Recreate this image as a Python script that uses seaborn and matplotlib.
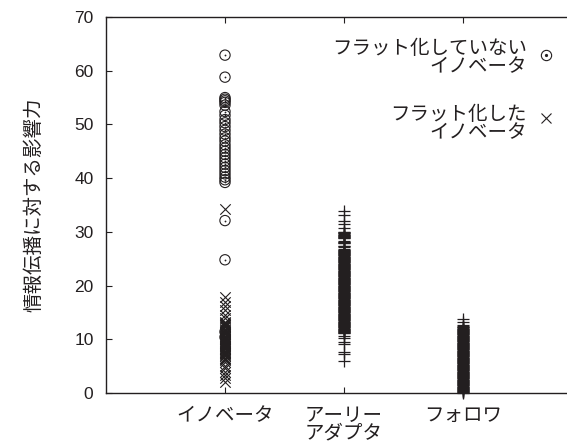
import matplotlib
matplotlib.use("Agg")
import matplotlib.pyplot as plt
from matplotlib.lines import Line2D
import pandas as pd
import seaborn as sns

# Adopter groups on the x axis
categories = ["イノベータ", "アーリー\nアダプタ", "フォロワ"]

# Influence on information propagation, per node
innovator_unflat = [62.9, 58.8, 55.0, 54.7, 54.4, 54.1, 53.6, 52.4, 51.7, 50.9,
                    50.3, 49.6, 48.9, 48.2, 47.5, 46.9, 46.2, 45.6, 45.0, 44.4,
                    43.8, 43.2, 42.6, 42.0, 41.4, 40.8, 40.2, 39.7, 39.2, 32.1,
                    24.8, 11.4, 10.4]
innovator_flat = [34.3, 17.8, 17.0, 16.2, 15.5, 14.6, 14.0, 13.3, 13.0, 12.8,
                  12.6, 12.4, 12.2, 12.0, 11.8, 11.6, 11.4, 11.2, 11.0, 10.9,
                  10.7, 10.5, 10.2, 10.0, 9.8, 9.6, 9.5, 9.3, 9.1, 8.9,
                  8.8, 8.6, 8.4, 8.2, 8.1, 7.9, 7.7, 7.5, 7.4, 7.2,
                  7.0, 6.8, 6.6, 6.4, 6.2, 5.7, 5.1, 4.6, 4.0, 3.4,
                  2.8, 2.1]
early_adopter = [33.9, 33.1, 32.1, 31.4, 30.7, 30.0, 29.9, 29.8, 29.7, 29.6,
                 29.5, 29.4, 29.3, 29.2, 29.1, 29.0, 28.9, 28.8, 28.3, 28.2,
                 28.1, 28.0, 27.9, 27.4, 27.3, 27.2, 26.8, 26.7, 26.6, 26.5,
                 26.4, 26.3, 26.2, 26.1, 26.0, 25.9, 25.8, 25.7, 25.6, 25.5,
                 25.4, 25.3, 25.2, 25.1, 25.0, 24.9, 24.8, 24.7, 24.6, 24.5,
                 24.4, 24.3, 24.2, 24.1, 24.0, 23.9, 23.8, 23.7, 23.6, 23.5,
                 23.4, 23.3, 23.2, 23.1, 23.0, 22.9, 22.8, 22.7, 22.6, 22.5,
                 22.4, 22.3, 22.2, 22.1, 22.0, 21.9, 21.8, 21.7, 21.6, 21.5,
                 21.4, 21.3, 21.2, 21.1, 21.0, 20.9, 20.8, 20.7, 20.6, 20.5,
                 20.4, 20.3, 20.2, 20.1, 20.0, 19.9, 19.8, 19.7, 19.6, 19.5,
                 19.4, 19.3, 19.2, 19.1, 19.0, 18.9, 18.8, 18.7, 18.6, 18.5,
                 18.4, 18.3, 18.2, 18.1, 18.0, 17.9, 17.8, 17.7, 17.6, 17.5,
                 17.4, 17.3, 17.2, 17.1, 17.0, 16.9, 16.8, 16.7, 16.6, 16.5,
                 16.4, 16.3, 16.2, 16.1, 16.0, 15.9, 15.8, 15.7, 15.6, 15.5,
                 15.4, 15.3, 15.2, 15.1, 15.0, 14.9, 14.8, 14.7, 14.6, 14.5,
                 14.4, 14.3, 14.2, 14.1, 14.0, 13.9, 13.8, 13.7, 13.6, 13.5,
                 13.4, 13.3, 13.2, 13.1, 13.0, 12.9, 12.8, 12.7, 12.6, 12.5,
                 12.4, 12.3, 12.2, 12.1, 12.0, 11.9, 11.8, 11.7, 11.6, 11.5,
                 11.4, 11.3, 11.2, 11.1, 10.6, 10.2, 9.5, 9.1, 7.7, 7.3,
                 6.0]
follower = [13.8, 13.2, 12.7, 12.4, 12.3, 12.2, 12.1, 12.0, 11.9, 11.8,
            11.7, 11.6, 11.5, 11.4, 11.3, 11.2, 11.1, 11.0, 10.9, 10.8,
            10.7, 10.6, 10.5, 10.4, 10.3, 10.2, 10.1, 10.0, 9.9, 9.8,
            9.7, 9.6, 9.5, 9.4, 9.3, 9.2, 9.1, 9.0, 8.9, 8.8,
            8.7, 8.6, 8.5, 8.4, 8.3, 8.2, 8.1, 8.0, 7.9, 7.8,
            7.7, 7.6, 7.5, 7.4, 7.3, 7.2, 7.1, 7.0, 6.9, 6.8,
            6.7, 6.6, 6.5, 6.4, 6.3, 6.2, 6.1, 6.0, 5.9, 5.8,
            5.7, 5.6, 5.5, 5.4, 5.3, 5.2, 5.1, 5.0, 4.9, 4.8,
            4.7, 4.6, 4.5, 4.4, 4.3, 4.2, 4.1, 4.0, 3.9, 3.8,
            3.7, 3.6, 3.5, 3.4, 3.3, 3.2, 3.1, 3.0, 2.9, 2.8,
            2.7, 2.6, 2.5, 2.4, 2.3, 2.2, 2.1, 2.0, 1.9, 1.8,
            1.7, 1.6, 1.5, 1.4, 1.3, 1.2, 1.1, 1.0, 0.9, 0.8,
            0.7, 0.6, 0.5, 0.4, 0.3, 0.2, 0.1, 0.0]
y_ticks = [0, 10, 20, 30, 40, 50, 60, 70]

legend_unflat = "フラット化していない\nイノベータ"
legend_flat = "フラット化した\nイノベータ"
y_label = "情報伝播に対する影響力"

sns.set_theme(style="ticks")
plt.rcParams["font.family"] = ["Liberation Sans", "Noto Sans CJK JP"]

df_unflat = pd.DataFrame({"group": categories[0], "value": innovator_unflat})
df_flat = pd.DataFrame({"group": categories[0], "value": innovator_flat})
df_others = pd.concat([
    pd.DataFrame({"group": categories[1], "value": early_adopter}),
    pd.DataFrame({"group": categories[2], "value": follower}),
])

fig = plt.figure(figsize=(5.67, 4.44), dpi=100)
ax = fig.add_axes([106 / 567, 51 / 444, 476 / 567, 376 / 444])

ink = "#231f20"

# Flattened innovators: crosses
sns.stripplot(data=df_flat, x="group", y="value", order=categories, jitter=False,
              marker="x", size=7.5, color=ink, linewidth=0.8, ax=ax)
# Non-flattened innovators: circle with a centre dot
sns.stripplot(data=df_unflat, x="group", y="value", order=categories, jitter=False,
              marker="o", size=7.4, facecolor="none", edgecolor=ink, linewidth=0.8,
              ax=ax)
sns.stripplot(data=df_unflat, x="group", y="value", order=categories, jitter=False,
              marker="o", size=1.3, color=ink, linewidth=0, ax=ax)
# Early adopters and followers: plus signs (not clipped at the zero line)
sns.stripplot(data=df_others, x="group", y="value", order=categories, jitter=False,
              marker="+", size=8.6, color=ink, linewidth=0.9, ax=ax, clip_on=False)

ax.set_xlim(-1, 3)
ax.set_ylim(0, 70)
ax.set_yticks(y_ticks)
ax.set_xlabel("")
ax.set_ylabel(y_label, fontsize=14, color=ink)
ax.yaxis.set_label_coords(-0.132, 0.5)

for side in ["left", "bottom", "top", "right"]:
    ax.spines[side].set_visible(True)
    ax.spines[side].set_linewidth(1.0)
    ax.spines[side].set_color(ink)

ax.tick_params(axis="both", direction="in", length=4.5, width=0.8, color=ink,
               top=True, right=True, labelcolor=ink)
ax.tick_params(axis="y", labelsize=12.5, pad=9)
ax.tick_params(axis="x", labelsize=14, pad=11)
for lbl in ax.get_xticklabels():
    lbl.set_linespacing(0.98)

# Key in the upper right: right-aligned text with the marker after it
fig.text(527 / 567, 1 - 55 / 444, legend_unflat, ha="right", va="center_baseline",
         multialignment="right", fontsize=14, color=ink, linespacing=1.15)
fig.text(527 / 567, 1 - 121 / 444, legend_flat, ha="right", va="center_baseline",
         multialignment="right", fontsize=14, color=ink, linespacing=1.15)
fig.add_artist(Line2D([546 / 567], [1 - 55 / 444], transform=fig.transFigure,
                      marker="o", markersize=7.4, markerfacecolor="none",
                      markeredgecolor=ink, markeredgewidth=0.8, linestyle="none"))
fig.add_artist(Line2D([546 / 567], [1 - 55 / 444], transform=fig.transFigure,
                      marker="o", markersize=1.3, color=ink, linestyle="none"))
fig.add_artist(Line2D([546 / 567], [1 - 118 / 444], transform=fig.transFigure,
                      marker="x", markersize=7.5, color=ink, markeredgewidth=0.8,
                      linestyle="none"))

fig.savefig("out.png", dpi=100)
